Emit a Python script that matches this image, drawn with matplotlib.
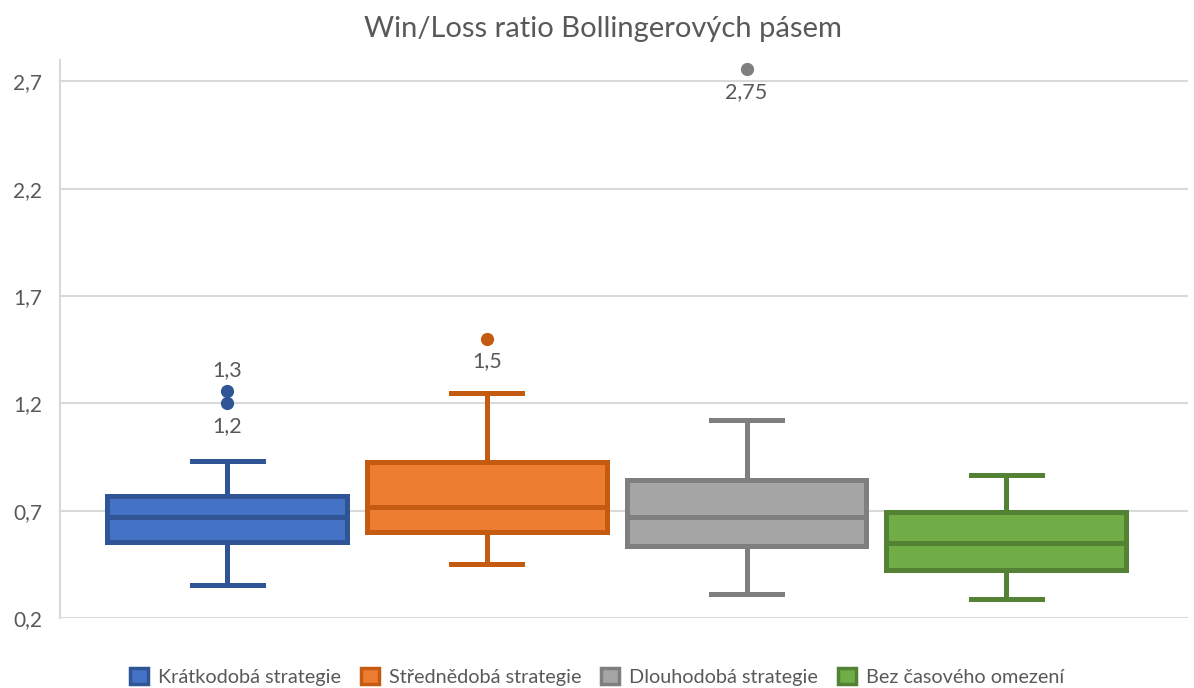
import matplotlib.pyplot as plt
from matplotlib.patches import Patch

plt.rcParams['font.family'] = ['Lato', 'DejaVu Sans']

# data
categories = ['Krátkodobá strategie', 'Střednědobá strategie',
              'Dlouhodobá strategie', 'Bez časového omezení']
whisker_low = [0.354, 0.452, 0.312, 0.289]
q1 = [0.554, 0.601, 0.536, 0.424]
median = [0.671, 0.718, 0.671, 0.550]
q3 = [0.769, 0.928, 0.844, 0.694]
whisker_high = [0.932, 1.249, 1.123, 0.867]
outliers = [[1.26, 1.20], [1.50], [2.756], []]
outlier_labels = [['1,3', '1,2'], ['1,5'], ['2,75'], []]
yticks = [0.2, 0.7, 1.2, 1.7, 2.2, 2.7]

face_colors = ['#4472C4', '#ED7D31', '#A5A5A5', '#70AD47']
edge_colors = ['#2F5597', '#C55A11', '#7F7F7F', '#548235']
text_color = '#595959'
grid_color = '#D9D9D9'

fig = plt.figure(figsize=(11.94, 6.88), dpi=100)
ax = fig.add_axes([0.0503, 0.1017, 0.9447, 0.8111])

positions = range(1, len(categories) + 1)
for i, pos in enumerate(positions):
    stats = [dict(whislo=whisker_low[i], q1=q1[i], med=median[i],
                  q3=q3[i], whishi=whisker_high[i], fliers=outliers[i])]
    lw = 3.6
    ax.bxp(stats, positions=[pos], widths=0.924, capwidths=0.273,
           patch_artist=True, showfliers=True,
           boxprops=dict(facecolor=face_colors[i], edgecolor=edge_colors[i], linewidth=lw),
           medianprops=dict(color=edge_colors[i], linewidth=lw),
           whiskerprops=dict(color=edge_colors[i], linewidth=lw),
           capprops=dict(color=edge_colors[i], linewidth=lw),
           flierprops=dict(marker='o', markersize=8.5, markerfacecolor=edge_colors[i],
                           markeredgecolor=edge_colors[i]),
           zorder=3)

# data labels for the outliers
for i, pos in enumerate(positions):
    vals = outliers[i]
    for j, (v, lab) in enumerate(zip(vals, outlier_labels[i])):
        above = len(vals) > 1 and v == max(vals)
        ax.annotate(lab, (pos, v), xytext=(0, 15 if above else -16),
                    textcoords='offset points', ha='center', va='center',
                    fontsize=15.5, color=text_color, zorder=4)

ax.set_xlim(0.357, 4.70)
ax.set_ylim(0.2, 2.8)
ax.set_yticks(yticks)
ax.set_yticklabels([f'{t:.1f}'.replace('.', ',') for t in yticks])
ax.set_xticks([])
ax.tick_params(axis='y', length=0, pad=13, labelsize=15, labelcolor=text_color)
ax.grid(axis='y', color=grid_color, linewidth=1.5, zorder=0)
ax.set_axisbelow(True)
for s in ['top', 'right', 'bottom']:
    ax.spines[s].set_visible(False)
ax.spines['left'].set_color(grid_color)
ax.spines['left'].set_linewidth(1.5)

fig.text(0.505, 0.958, 'Win/Loss ratio Bollingerových pásem', ha='center', va='center',
         fontsize=21, color=text_color)

handles = [Patch(facecolor=f, edgecolor=e, linewidth=2.5)
           for f, e in zip(face_colors, edge_colors)]
fig.legend(handles, categories, loc='center', bbox_to_anchor=(0.5, 0.016), ncol=4,
           frameon=False, fontsize=14.3, labelcolor=text_color,
           handlelength=0.9, handleheight=0.9, handletextpad=0.5, columnspacing=1.0)

fig.savefig('out.png', dpi=100)
